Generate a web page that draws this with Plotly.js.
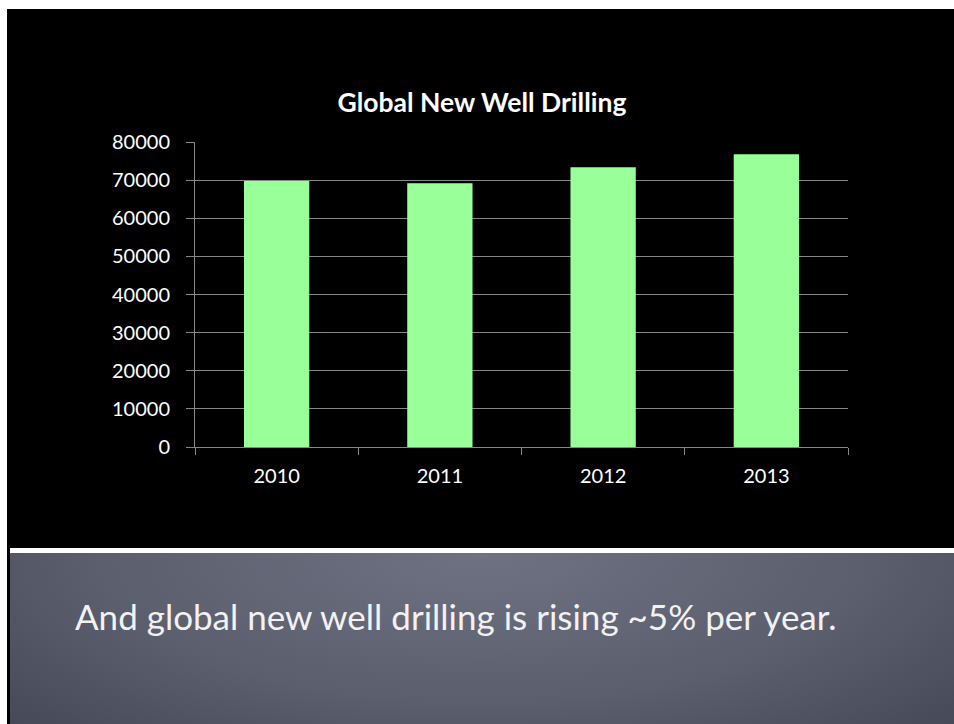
<!DOCTYPE html>
<html>
<head>
<meta charset="utf-8">
<script src="https://cdn.plot.ly/plotly-3.0.1.min.js"></script>
<style>
  html, body { margin:0; padding:0; background:#ffffff; }
  #stage { position:relative; width:954px; height:724px; overflow:hidden; background:#ffffff; }
  #black { position:absolute; left:7px; top:9px; width:947px; height:715px; background:#000000; }
  #rule { position:absolute; left:10px; top:548px; width:944px; height:5px; background:#ffffff; }
  #band { position:absolute; left:10px; top:553px; width:944px; height:171px;
          background: radial-gradient(ellipse 75% 160% at 50% 0%, #6f7282 0%, #5b5e6d 55%, #414452 100%); }
  #chart { position:absolute; left:0; top:0; width:954px; height:724px; }
</style>
</head>
<body>
<div id="stage">
  <div id="black"></div>
  <div id="rule"></div>
  <div id="band"></div>
  <div id="chart"></div>
</div>
<script>
const years = ['2010', '2011', '2012', '2013'];
const wells = [69800, 69200, 73400, 76800];
const yTicks = [0, 10000, 20000, 30000, 40000, 50000, 60000, 70000, 80000];
const chartTitle = 'Global New Well Drilling';
const caption = 'And global new well drilling is rising ~5% per year.';

const FONT = 'Lato, "Open Sans", sans-serif';
const GRID = '#868686';

const data = [{
  type: 'bar',
  x: years,
  y: wells,
  marker: { color: '#99ff99', line: { width: 0 } },
  hoverinfo: 'none'
}];

const layout = {
  width: 954,
  height: 724,
  paper_bgcolor: 'rgba(0,0,0,0)',
  plot_bgcolor: 'rgba(0,0,0,0)',
  margin: { l: 195, r: 106, t: 142, b: 277, pad: 0 },
  showlegend: false,
  bargap: 0.6,
  font: { family: FONT, color: '#ffffff', size: 20 },
  title: {
    text: '<b>' + chartTitle + '</b>',
    font: { family: FONT, size: 26.5, color: '#ffffff' },
    xref: 'container', x: 482 / 954, xanchor: 'center',
    yref: 'container', y: 1 - 103 / 724, yanchor: 'middle'
  },
  xaxis: {
    type: 'category',
    tickson: 'boundaries',
    ticks: 'outside',
    ticklen: 7,
    tickwidth: 1,
    tickcolor: GRID,
    showline: true,
    linecolor: GRID,
    linewidth: 1,
    showgrid: false,
    zeroline: false,
    tickfont: { family: FONT, size: 20, color: '#ffffff' },
    ticklabelstandoff: 11
  },
  yaxis: {
    range: [0, 80000],
    tickvals: yTicks,
    ticktext: yTicks.map(String),
    ticks: 'outside',
    ticklen: 8,
    tickwidth: 1,
    tickcolor: GRID,
    showline: true,
    linecolor: GRID,
    linewidth: 1,
    showgrid: true,
    gridcolor: GRID,
    gridwidth: 1,
    zeroline: false,
    tickfont: { family: FONT, size: 20, color: '#ffffff' },
    ticklabelstandoff: 12
  },
  annotations: [{
    text: caption,
    xref: 'paper', yref: 'paper',
    x: (73 - 195) / 653, xanchor: 'left',
    y: (446.7 - 616) / 305, yanchor: 'middle',
    showarrow: false,
    font: { family: FONT, size: 35, color: '#f2f2f2' }
  }]
};

Plotly.newPlot('chart', data, layout, { staticPlot: true, displayModeBar: false });
</script>
</body>
</html>
